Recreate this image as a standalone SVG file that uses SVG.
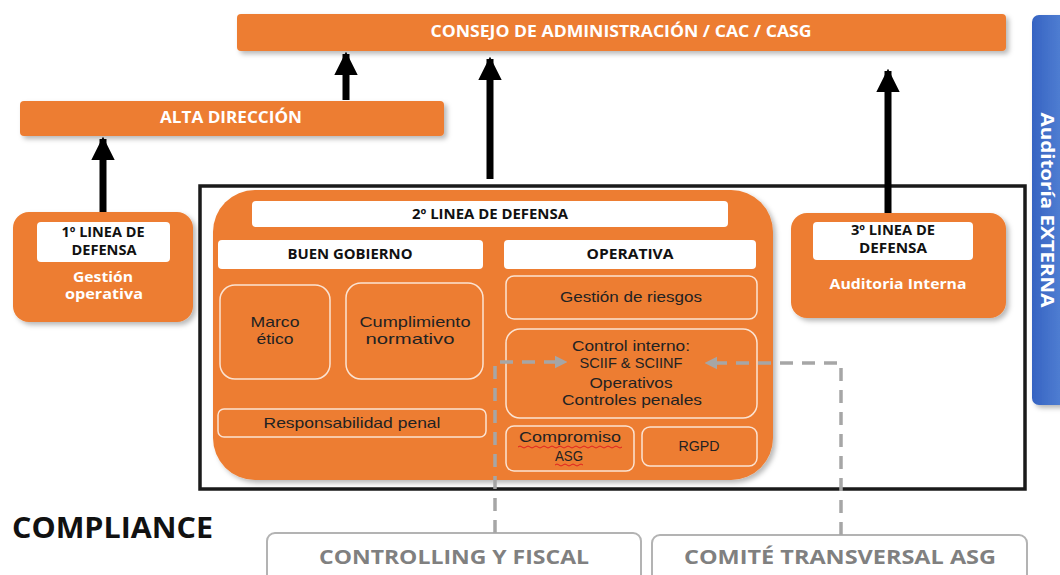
<svg xmlns="http://www.w3.org/2000/svg" width="1060" height="575" viewBox="0 0 1060 575">
<defs>
<filter id="sh" x="-10%" y="-20%" width="130%" height="150%">
<feDropShadow dx="3" dy="3" stdDeviation="2.5" flood-color="#000" flood-opacity="0.28"/>
</filter>
<linearGradient id="blue" x1="0" y1="0" x2="1" y2="0">
<stop offset="0" stop-color="#3563c2"/>
<stop offset="1" stop-color="#5a88d8"/>
</linearGradient>
<marker id="ah" viewBox="0 0 10 10" refX="9" refY="5" markerWidth="3.4" markerHeight="3.4" markerUnits="strokeWidth" orient="auto">
<path d="M0,0 L10,5 L0,10 Z" fill="#000"/>
</marker>
<marker id="gh" viewBox="0 0 10 10" refX="9" refY="5" markerWidth="3.6" markerHeight="4" markerUnits="strokeWidth" orient="auto">
<path d="M0,0 L10,5 L0,10 Z" fill="#a6a6a6"/>
</marker>
<style>
.or{fill:#ED7D31}
.wb{fill:#fff}
.sub{fill:none;stroke:#fbe3d2;stroke-width:1.5}
.t{font-family:"Open Sans","Liberation Sans",sans-serif}
.hw{font-weight:700;fill:#fff;text-anchor:middle}
.hb{font-weight:700;fill:#111;text-anchor:middle}
.n{font-family:"Liberation Sans",Arial,sans-serif;fill:#222;text-anchor:middle;font-size:14.5px}
.gt{font-weight:700;fill:#808080;text-anchor:middle;font-size:19px}
.ar{stroke:#000;stroke-width:7;fill:none;marker-end:url(#ah)}
.da{stroke:#a6a6a6;stroke-width:3.5;fill:none;stroke-dasharray:13 9;marker-end:url(#gh)}
.wv{fill:none;stroke:#e02020;stroke-width:1}
</style>
</defs>

<g id="consejo">
<rect x="237" y="14" width="769" height="37" rx="4" class="or" filter="url(#sh)"/>
<text x="621" y="37" class="t hw" font-size="16" textLength="381" lengthAdjust="spacingAndGlyphs">CONSEJO DE ADMINISTRACIÓN / CAC / CASG</text>
</g>

<g id="alta-direccion">
<rect x="20" y="101" width="424" height="35" rx="4" class="or" filter="url(#sh)"/>
<text x="231" y="123" class="t hw" font-size="16" textLength="142" lengthAdjust="spacingAndGlyphs">ALTA DIRECCIÓN</text>
</g>

<g id="auditoria-externa">
<rect x="1032" y="15" width="40" height="390" rx="7" fill="url(#blue)" filter="url(#sh)"/>
<text transform="translate(1041,210) rotate(90)" x="0" y="0" class="t hw" font-size="17" textLength="195" lengthAdjust="spacingAndGlyphs">Auditoría EXTERNA</text>
</g>

<g id="compliance-box">
<rect x="200" y="186" width="825" height="303" fill="#fff" stroke="#1a1a1a" stroke-width="3.5"/>
</g>

<g id="linea1">
<rect x="13" y="212" width="180" height="110" rx="16" class="or" filter="url(#sh)"/>
<rect x="37" y="222" width="133" height="40" rx="4" class="wb"/>
<text x="103" y="237" class="t hb" font-size="13.5" textLength="83" lengthAdjust="spacingAndGlyphs">1º LINEA DE</text>
<text x="104" y="255" class="t hb" font-size="13.5" textLength="65" lengthAdjust="spacingAndGlyphs">DEFENSA</text>
<text x="103" y="282" class="t hw" font-size="14" textLength="60" lengthAdjust="spacingAndGlyphs">Gestión</text>
<text x="104" y="299" class="t hw" font-size="14" textLength="78" lengthAdjust="spacingAndGlyphs">operativa</text>
</g>

<g id="linea2">
<rect x="213" y="190" width="560" height="290" rx="42" class="or" filter="url(#sh)"/>
<rect x="252" y="201" width="476" height="26" rx="4" class="wb"/>
<text x="490" y="219" class="t hb" font-size="13.5" textLength="156" lengthAdjust="spacingAndGlyphs">2º LINEA DE DEFENSA</text>
</g>

<g id="buen-gobierno">
<rect x="218" y="240" width="265" height="29" rx="4" class="wb"/>
<text x="350" y="259" class="t hb" font-size="14" textLength="125" lengthAdjust="spacingAndGlyphs">BUEN GOBIERNO</text>
</g>

<g id="operativa">
<rect x="504" y="240" width="252" height="29" rx="4" class="wb"/>
<text x="630" y="259" class="t hb" font-size="14" textLength="87" lengthAdjust="spacingAndGlyphs">OPERATIVA</text>
</g>

<g id="marco-etico">
<rect x="220" y="285" width="110" height="94" rx="15" class="sub"/>
<text x="275" y="327" class="n" textLength="49" lengthAdjust="spacingAndGlyphs">Marco</text>
<text x="275" y="344" class="n" textLength="37" lengthAdjust="spacingAndGlyphs">ético</text>
</g>

<g id="cumplimiento">
<rect x="346" y="283" width="137" height="96" rx="15" class="sub"/>
<text x="415" y="327" class="n" textLength="111" lengthAdjust="spacingAndGlyphs">Cumplimiento</text>
<text x="410" y="344" class="n" textLength="89" lengthAdjust="spacingAndGlyphs">normativo</text>
</g>

<g id="responsabilidad">
<rect x="218" y="409" width="268" height="28" rx="6" class="sub"/>
<text x="352" y="428" class="n" textLength="177" lengthAdjust="spacingAndGlyphs">Responsabilidad penal</text>
</g>

<g id="gestion-riesgos">
<rect x="506" y="276" width="251" height="43" rx="8" class="sub"/>
<text x="631" y="302" class="n" textLength="142" lengthAdjust="spacingAndGlyphs">Gestión de riesgos</text>
</g>

<g id="control-interno">
<rect x="506" y="329" width="251" height="89" rx="14" class="sub"/>
<text x="631" y="351" class="n" textLength="118" lengthAdjust="spacingAndGlyphs">Control interno:</text>
<text x="631" y="368" class="n" textLength="103" lengthAdjust="spacingAndGlyphs">SCIIF &amp; SCIINF</text>
<text x="631" y="388" class="n" textLength="83" lengthAdjust="spacingAndGlyphs">Operativos</text>
<text x="632" y="405" class="n" textLength="140" lengthAdjust="spacingAndGlyphs">Controles penales</text>
</g>

<g id="compromiso-asg">
<rect x="506" y="426" width="128" height="45" rx="8" class="sub"/>
<text x="570" y="442" class="n" textLength="102" lengthAdjust="spacingAndGlyphs">Compromiso</text>
<text x="569" y="461" class="n" textLength="28" lengthAdjust="spacingAndGlyphs">ASG</text>
<path class="wv" d="M518,447 q2,-2 4,0 t4,0 t4,0 t4,0 t4,0 t4,0 t4,0 t4,0 t4,0 t4,0 t4,0 t4,0 t4,0 t4,0 t4,0 t4,0 t4,0 t4,0 t4,0 t4,0 t4,0 t4,0 t4,0 t4,0 t4,0 t4,0"/>
<path class="wv" d="M555,465 q2,-2 4,0 t4,0 t4,0 t4,0 t4,0 t4,0 t4,0"/>
</g>

<g id="rgpd">
<rect x="642" y="427" width="115" height="39" rx="8" class="sub"/>
<text x="699" y="451" class="n" textLength="41" lengthAdjust="spacingAndGlyphs">RGPD</text>
</g>

<g id="linea3">
<rect x="791" y="213" width="215" height="105" rx="16" class="or" filter="url(#sh)"/>
<rect x="813" y="222" width="160" height="38" rx="4" class="wb"/>
<text x="893" y="235" class="t hb" font-size="13.5" textLength="84" lengthAdjust="spacingAndGlyphs">3º LINEA DE</text>
<text x="893" y="253" class="t hb" font-size="13.5" textLength="68" lengthAdjust="spacingAndGlyphs">DEFENSA</text>
<text x="898" y="289" class="t hw" font-size="14.5" textLength="137" lengthAdjust="spacingAndGlyphs">Auditoria Interna</text>
</g>

<g id="compliance-label">
<text x="12" y="538" class="t" font-size="28" font-weight="700" fill="#111" textLength="201" lengthAdjust="spacingAndGlyphs">COMPLIANCE</text>
</g>

<g id="controlling">
<rect x="267" y="533" width="374" height="60" rx="8" fill="#fff" stroke="#b3b3b3" stroke-width="2"/>
<text x="454" y="564" class="t gt" textLength="270" lengthAdjust="spacingAndGlyphs">CONTROLLING Y FISCAL</text>
</g>

<g id="comite">
<rect x="652" y="535" width="375" height="60" rx="8" fill="#fff" stroke="#b3b3b3" stroke-width="2"/>
<text x="840" y="564" class="t gt" textLength="312" lengthAdjust="spacingAndGlyphs">COMITÉ TRANSVERSAL ASG</text>
</g>

<g id="connectors">
<path class="ar" d="M103,212 V139"/>
<path class="ar" d="M346,100 V54"/>
<path class="ar" d="M490,179 V59"/>
<path class="ar" d="M888,213 V71"/>
<path class="da" d="M495,533 V362 H566"/>
<path class="da" d="M841,535 V363 H706"/>
</g>
</svg>
